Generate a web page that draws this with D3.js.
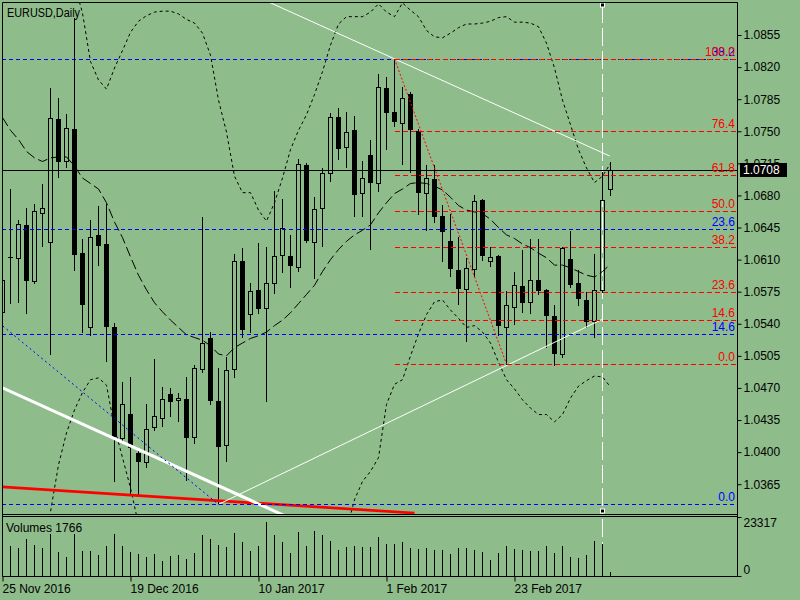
<!DOCTYPE html>
<html>
<head>
<meta charset="utf-8">
<script src="https://cdnjs.cloudflare.com/ajax/libs/d3/7.8.5/d3.min.js"></script>
<style>
  body { margin: 0; background: #8fbc8b; }
  svg text { font-family: "Liberation Sans", Arial, sans-serif; font-size: 12px; }
</style>
</head>
<body>
<div id="chart"></div>
<script>
// EURUSD daily candles, 25 Nov 2016 .. 13 Mar 2017
var opens  = [1.0553,1.0613,1.0612,1.0648,1.0587,1.0661,1.0629,1.0763,1.0718,1.0753,
              1.0617,1.0536,1.0637,1.0627,1.0537,1.0415,1.0442,1.0399,1.0389,1.0427,
              1.0437,1.0463,1.0457,1.0458,1.0416,1.0491,1.0524,1.0456,1.0408,1.0491,
              1.0608,1.0551,1.0577,1.0557,1.0585,1.0615,1.0614,1.0602,1.0713,1.0629,
              1.0666,1.0705,1.0766,1.0733,1.0751,1.0683,1.0724,1.0694,1.0797,1.0771,
              1.0759,1.0791,1.0750,1.0683,1.0698,1.0658,1.0630,1.0599,1.0578,1.0600,
              1.0675,1.0609,1.0614,1.0537,1.0558,1.0581,1.0564,1.0588,1.0577,1.0548,
              1.0507,1.0611,1.0585,1.0566,1.0543,1.0577,1.0687];
var highs  = [1.0597,1.0687,1.0653,1.0666,1.0671,1.0692,1.0797,1.0786,1.0769,1.0874,
              1.0632,1.0653,1.0669,1.0671,1.0541,1.0476,1.0482,1.0405,1.0453,1.0502,
              1.0471,1.0470,1.0465,1.0482,1.0495,1.0656,1.0531,1.0492,1.0504,1.0616,
              1.0623,1.0585,1.0628,1.0624,1.0685,1.0676,1.0637,1.0720,1.0715,1.0678,
              1.0710,1.0770,1.0775,1.0771,1.0767,1.0718,1.0741,1.0812,1.0809,1.0829,
              1.0798,1.0793,1.0752,1.0713,1.0713,1.0670,1.0660,1.0635,1.0612,1.0681,
              1.0676,1.0624,1.0615,1.0576,1.0597,1.0620,1.0633,1.0632,1.0578,1.0561,
              1.0624,1.0641,1.0599,1.0575,1.0616,1.0706,1.0717];
var lows   = [1.0546,1.0563,1.0564,1.0552,1.0585,1.0625,1.0507,1.0700,1.0711,1.0599,
              1.0531,1.0528,1.0604,1.0499,1.0368,1.0411,1.0354,1.0352,1.0384,1.0424,
              1.0428,1.0439,1.0434,1.0370,1.0410,1.0487,1.0453,1.0343,1.0390,1.0482,
              1.0526,1.0531,1.0552,1.0456,1.0574,1.0597,1.0580,1.0598,1.0629,1.0590,
              1.0625,1.0696,1.0720,1.0711,1.0658,1.0658,1.0622,1.0685,1.0731,1.0756,
              1.0714,1.0706,1.0660,1.0642,1.0651,1.0609,1.0592,1.0562,1.0521,1.0592,
              1.0610,1.0603,1.0528,1.0496,1.0540,1.0553,1.0552,1.0573,1.0515,1.0495,
              1.0504,1.0580,1.0561,1.0537,1.0526,1.0575,1.0680];
var closes = [1.0588,1.0612,1.0649,1.0587,1.0663,1.0666,1.0765,1.0717,1.0754,1.0615,
              1.0560,1.0635,1.0625,1.0537,1.0417,1.0452,1.0404,1.0389,1.0425,1.0439,
              1.0458,1.0455,1.0459,1.0415,1.0492,1.0519,1.0456,1.0406,1.0490,1.0609,
              1.0533,1.0576,1.0556,1.0584,1.0614,1.0645,1.0603,1.0714,1.0630,1.0665,
              1.0705,1.0766,1.0731,1.0749,1.0681,1.0699,1.0694,1.0798,1.0770,1.0760,
              1.0786,1.0751,1.0683,1.0699,1.0656,1.0640,1.0600,1.0578,1.0601,1.0674,
              1.0614,1.0613,1.0538,1.0561,1.0582,1.0563,1.0588,1.0576,1.0548,1.0507,
              1.0623,1.0582,1.0567,1.0542,1.0577,1.0675,1.0708];
var volumes = [11000,11860,10930,14670,12260,10930,16680,9330,7320,16680,
               9730,9730,8240,11860,16680,11860,9330,8640,7320,8640,
               5830,7840,8240,6910,9170,16280,14670,12260,11340,16960,
               13350,9730,11860,21390,16280,13350,8920,17370,11860,17890,
               16280,13870,10250,11460,11860,11460,11460,15480,12660,12660,
               13470,11060,10650,11060,10250,10250,8640,11060,11060,10250,
               9450,6230,9050,11860,10650,10250,9850,9850,11860,9050,
               11860,7440,7040,8240,13870,12660,1766];

// Bollinger bands (null = outside the visible window)
var bbUpper = [null,null,null,null,null,null,null,null,null,1.0910,
               1.0879,1.0826,1.0806,1.0796,1.0819,1.0838,1.0858,1.0870,1.0876,1.0880,
               1.0881,1.0881,1.0878,1.0872,1.0868,1.0857,1.0833,1.0784,1.0749,1.0701,
               1.0683,1.0683,1.0664,1.0652,1.0672,1.0699,1.0730,1.0751,1.0768,1.0790,
               1.0815,1.0844,1.0867,1.0875,1.0875,1.0875,1.0880,1.0889,1.0880,1.0875,
               1.0890,1.0882,1.0875,1.0860,1.0853,1.0852,1.0857,1.0863,1.0867,1.0867,
               1.0868,1.0870,1.0874,1.0875,1.0869,1.0869,1.0868,1.0864,1.0846,1.0819,
               1.0784,1.0757,1.0730,1.0710,1.0694,1.0701,1.0715];
var bbMiddle = [1.0765,1.0751,1.0741,1.0728,1.0721,1.0717,1.0721,1.0722,1.0722,1.0712,
                1.0699,1.0693,1.0687,1.0672,1.0651,1.0634,1.0613,1.0593,1.0577,1.0563,
                1.0553,1.0544,1.0536,1.0528,1.0525,1.0522,1.0516,1.0507,1.0505,1.0514,
                1.0519,1.0524,1.0527,1.0531,1.0538,1.0544,1.0552,1.0562,1.0572,1.0582,
                1.0597,1.0610,1.0621,1.0630,1.0637,1.0642,1.0648,1.0661,1.0672,1.0682,
                1.0687,1.0693,1.0694,1.0693,1.0690,1.0686,1.0678,1.0669,1.0664,1.0662,
                1.0660,1.0654,1.0645,1.0637,1.0633,1.0627,1.0623,1.0617,1.0612,1.0604,
                1.0604,1.0601,1.0597,1.0593,1.0591,1.0597,1.0605];
var bbLower = [null,null,null,null,null,1.0304,1.0335,1.0386,1.0421,1.0446,
               1.0465,1.0479,1.0481,1.0473,1.0427,1.0394,1.0361,1.0321,null,null,
               null,null,null,null,null,null,null,null,null,null,
               null,null,null,null,null,null,null,null,null,null,
               null,null,null,1.0315,1.0348,1.0368,1.0379,1.0394,1.0452,1.0474,
               1.0479,1.0505,1.0529,1.0550,1.0564,1.0566,1.0555,1.0546,1.0536,1.0538,
               1.0531,1.0519,1.0498,1.0479,1.0469,1.0457,1.0448,1.0441,1.0441,1.0433,
               1.0441,1.0459,1.0472,1.0478,1.0483,1.0482,1.0471];

var dateTickIndex  = [0, 16, 32, 48, 64];
var dateTickLabels = ["25 Nov 2016", "19 Dec 2016", "10 Jan 2017", "1 Feb 2017", "23 Feb 2017"];
var priceTicks = [1.0855,1.0820,1.0785,1.0750,1.0715,1.0680,1.0645,1.0610,
                  1.0575,1.0540,1.0505,1.0470,1.0435,1.0400,1.0365];
var volumeTicks = [0, 23317];
var bidPrice = 1.0708;

// objects: [bar index, price]
var redFibHigh  = [49, 1.0829];
var redFibLow   = [63, 1.0496];
var redFibLevels = [0, 14.6, 23.6, 38.2, 50, 61.8, 76.4, 100];
var blueFibHigh = [-149.3, 1.1615];
var blueFibLow  = [27, 1.0343];
var blueFibLevels = [0, 14.6, 23.6, 38.2];
var trendTop   = [[49, 1.0829], [75.9, 1.0723]];
var trendRise  = [[27, 1.0343], [75, 1.0545]];
var trendThick = [[0, 1.0470], [33.4, 1.0338]];
var trendRed   = [[0, 1.0362], [51.5, 1.03335]];
var vlineIndex = 75;

var W = 800, H = 600;
var pL = 2, pR = 737, pT = 2, pB = 514, volTop = 517, volBottom = 576;

var svg = d3.select("#chart")
  .append("svg")
    .attr("width", W)
    .attr("height", H)

svg.append("rect").attr("width", W).attr("height", H).attr("fill", "#8fbc8b")

var x = d3.scaleLinear().domain([0, opens.length - 1]).range([2.5, 610.5])
var y = d3.scaleLinear().domain([1.03325, 1.0891]).range([pB, pT])
var yv = d3.scaleLinear().domain([0, 23317]).range([volBottom, volTop])

svg.append("clipPath").attr("id", "clipMain")
  .append("rect").attr("x", pL).attr("y", pT).attr("width", pR - pL).attr("height", pB - pT)

var main = svg.append("g").attr("clip-path", "url(#clipMain)")

// vertical line (under the candles)
var vx = x(vlineIndex)
main.append("line")
    .attr("x1", vx).attr("x2", vx).attr("y1", 5).attr("y2", pB)
    .attr("stroke", "#fff").attr("stroke-dasharray", "18,5")

// candles
var bars = opens.map(function(o, i) { return {i: i, o: o, h: highs[i], l: lows[i], c: closes[i]} })
var cg = main.append("g")
cg.selectAll("path.wick")
  .data(bars)
  .enter()
  .append("path")
    .attr("class", "wick")
    .attr("fill", "none").attr("stroke", "#000")
    .attr("d", function(d) {
      var cx = x(d.i)
      var yt = Math.round(y(Math.max(d.o, d.c))), yb = Math.round(y(Math.min(d.o, d.c)))
      return "M" + cx + "," + Math.round(y(d.h)) + "V" + yt + "M" + cx + "," + yb + "V" + (Math.round(y(d.l)) + 1)
    })
cg.selectAll("rect.body")
  .data(bars)
  .enter()
  .append("rect")
    .attr("class", "body")
    .each(function(d) {
      var cx = x(d.i)
      var yo = Math.round(y(d.o)), yc = Math.round(y(d.c))
      var el = d3.select(this)
      if (d.c >= d.o) {
        el.attr("x", cx - 2).attr("y", yc + 0.5).attr("width", 4).attr("height", Math.max(0, yo - yc))
          .attr("fill", "none").attr("stroke", "#000")
      } else {
        el.attr("x", cx - 2.5).attr("y", yo).attr("width", 5).attr("height", Math.max(1, yc - yo))
          .attr("fill", "#000")
      }
    })

// bollinger bands
var band = d3.line()
  .defined(function(d) { return d != null })
  .x(function(d, i) { return x(i) })
  .y(function(d) { return y(d) })
main.append("path").attr("d", band(bbUpper)).attr("fill", "none").attr("stroke", "#000").attr("stroke-dasharray", "3,3")
main.append("path").attr("d", band(bbLower)).attr("fill", "none").attr("stroke", "#000").attr("stroke-dasharray", "3,3")
main.append("path").attr("d", band(bbMiddle)).attr("fill", "none").attr("stroke", "#000").attr("stroke-dasharray", "10,4")

// straight objects
function priceAt(seg, t) {
  return seg[0][1] + (t - seg[0][0]) * (seg[1][1] - seg[0][1]) / (seg[1][0] - seg[0][0])
}
function drawSeg(seg, from, to, color, width) {
  main.append("line")
    .attr("x1", x(from)).attr("y1", y(priceAt(seg, from)))
    .attr("x2", x(to)).attr("y2", y(priceAt(seg, to)))
    .attr("stroke", color).attr("stroke-width", width)
}
drawSeg(trendRed, -2, trendRed[1][0], "#ff0000", 2.7)
drawSeg(trendThick, -2, 37, "#fff", 3)
drawSeg(trendTop, 25, trendTop[1][0], "#fff", 1)
drawSeg(trendRise, trendRise[0][0], trendRise[1][0], "#fff", 1)

// fibonacci levels
function fibPrice(hi, lo, lv) { return lo[1] + (hi[1] - lo[1]) * lv / 100 }
function fibY(hi, lo, lv) { return Math.round(y(fibPrice(hi, lo, lv))) + 0.5 }

main.selectAll("line.bfib")
  .data(blueFibLevels)
  .enter()
  .append("line")
    .attr("class", "bfib")
    .attr("x1", pL).attr("x2", pR)
    .attr("y1", function(d) { return fibY(blueFibHigh, blueFibLow, d) })
    .attr("y2", function(d) { return fibY(blueFibHigh, blueFibLow, d) })
    .attr("stroke", "#0000ff").attr("stroke-width", 1).attr("stroke-dasharray", "4,3")
main.append("line")
    .attr("x1", x(blueFibHigh[0])).attr("y1", y(blueFibHigh[1]))
    .attr("x2", x(blueFibLow[0])).attr("y2", y(blueFibLow[1]))
    .attr("stroke", "#0000ff").attr("stroke-dasharray", "2,3")

// bid line
main.append("line")
    .attr("x1", pL).attr("x2", pR)
    .attr("y1", Math.round(y(bidPrice)) + 0.5).attr("y2", Math.round(y(bidPrice)) + 0.5)
    .attr("stroke", "#000")

main.append("line")
    .attr("x1", x(redFibHigh[0])).attr("y1", y(redFibHigh[1]))
    .attr("x2", x(redFibLow[0])).attr("y2", y(redFibLow[1]))
    .attr("stroke", "#ff0000").attr("stroke-dasharray", "2,2")

// red fib levels, drawn on top
var rf = svg.append("g")
redFibLevels.forEach(function(lv) {
  var ly = fibY(redFibHigh, redFibLow, lv)
  rf.append("path")
    .attr("d", "M" + Math.round(x(redFibHigh[0])) + "," + ly + "H" + pR)
    .attr("fill", "none")
    .attr("stroke", "#ff0000")
    .attr("stroke-width", 1)
    .attr("stroke-dasharray", "5,3")
})

// fib labels (blue under red)
var fmt1 = d3.format(".1f")
svg.selectAll("text.bfib")
  .data(blueFibLevels)
  .enter()
  .append("text")
    .attr("class", "bfib")
    .attr("x", 735).attr("y", function(d) { return y(fibPrice(blueFibHigh, blueFibLow, d)) - 3 })
    .attr("text-anchor", "end").attr("fill", "#0000ff")
    .text(function(d) { return fmt1(d) })
svg.selectAll("text.rfib")
  .data(redFibLevels)
  .enter()
  .append("text")
    .attr("class", "rfib")
    .attr("x", 735).attr("y", function(d) { return y(fibPrice(redFibHigh, redFibLow, d)) - 3 })
    .attr("text-anchor", "end").attr("fill", "#ff0000")
    .text(function(d) { return fmt1(d) })

// vertical line markers and volume part
svg.append("rect").attr("x", vx - 2).attr("y", 3).attr("width", 4).attr("height", 4)
  .attr("fill", "#000").attr("stroke", "#fff")
svg.append("rect").attr("x", vx - 2).attr("y", 509).attr("width", 4).attr("height", 4)
  .attr("fill", "#000").attr("stroke", "#fff")
svg.append("line")
    .attr("x1", vx).attr("x2", vx).attr("y1", volTop + 2).attr("y2", volBottom)
    .attr("stroke", "#fff").attr("stroke-dasharray", "18,5")

// volumes
svg.append("g")
  .selectAll("line")
  .data(volumes)
  .enter()
  .append("line")
    .attr("x1", function(d, i) { return x(i) }).attr("x2", function(d, i) { return x(i) })
    .attr("y1", volBottom).attr("y2", function(d) { return Math.round(yv(d)) })
    .attr("stroke", "#000")

// frames
var frame = svg.append("g").attr("fill", "none").attr("stroke", "#000")
frame.append("path").attr("d", "M" + (pL + 0.5) + "," + (pT + 0.5) + "H" + (pR + 0.5) + "V" + (volBottom + 0.5) + "H" + (pL + 0.5) + "Z")
frame.append("path").attr("d", "M" + pL + "," + (pB + 0.5) + "H" + pR)
frame.append("path").attr("d", "M" + pL + "," + (volTop - 0.5) + "H" + pR)

// price axis
var pa = svg.append("g")
  .attr("transform", "translate(" + (pR + 0.5) + ",0)")
  .call(d3.axisRight(y).tickValues(priceTicks).tickSize(4).tickPadding(2).tickFormat(d3.format(".4f")))
pa.select(".domain").remove()
pa.selectAll("text").attr("font-family", "Liberation Sans, Arial, sans-serif").attr("font-size", 12).attr("fill", "#000")
pa.selectAll("line").attr("stroke", "#000")

// volume axis
var va = svg.append("g")
  .attr("transform", "translate(" + (pR + 0.5) + ",0)")
  .call(d3.axisRight(yv).tickValues(volumeTicks).tickSize(4).tickPadding(2).tickFormat(d3.format("d")))
va.select(".domain").remove()
va.selectAll("text").attr("font-family", "Liberation Sans, Arial, sans-serif").attr("font-size", 12).attr("fill", "#000")
  .attr("dy", function(d) { return d === 0 ? "-0.18em" : "0.82em" })
va.selectAll("line").attr("stroke", "#000")

// date axis
var da = svg.append("g")
  .attr("transform", "translate(0," + (volBottom + 0.5) + ")")
  .call(d3.axisBottom(x).tickValues(dateTickIndex).tickSize(5).tickPadding(3)
    .tickFormat(function(d, i) { return dateTickLabels[i] }))
da.select(".domain").remove()
da.selectAll("text").attr("font-family", "Liberation Sans, Arial, sans-serif").attr("font-size", 12)
  .attr("fill", "#000").attr("text-anchor", "start").attr("dx", -0.5)
da.selectAll("line").attr("stroke", "#000")

// current price box
var by = y(bidPrice)
svg.append("rect").attr("x", 740).attr("y", Math.round(by) - 7).attr("width", 47).attr("height", 14).attr("fill", "#000")
svg.append("text").attr("x", 743).attr("y", by + 4.5).attr("fill", "#fff").text(d3.format(".4f")(bidPrice))

// titles
svg.append("text").attr("x", 7).attr("y", 17).attr("fill", "#000")
  .attr("textLength", 73).attr("lengthAdjust", "spacingAndGlyphs").text("EURUSD,Daily")
svg.append("text").attr("x", 6).attr("y", 532).attr("fill", "#000").text("Volumes " + volumes[volumes.length - 1])
</script>
</body>
</html>
